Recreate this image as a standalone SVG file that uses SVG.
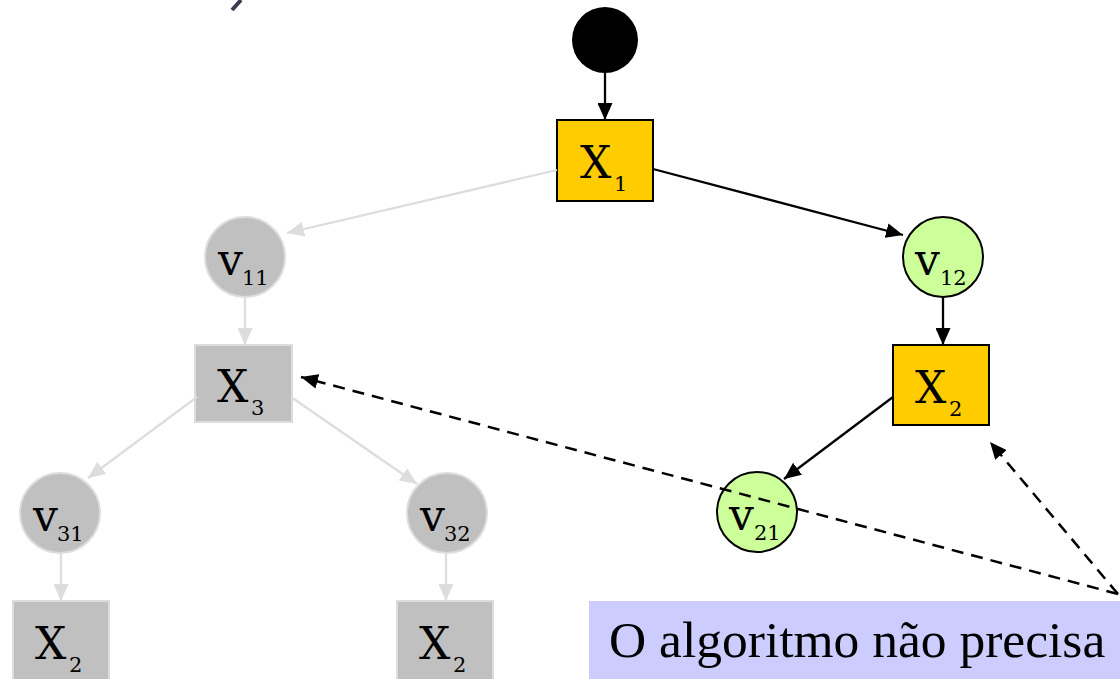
<svg xmlns="http://www.w3.org/2000/svg" width="1120" height="679" viewBox="0 0 1120 679">
<style>
.box-y{fill:#FFCC00;stroke:#000;stroke-width:2}
.box-g{fill:#C0C0C0;stroke:#DDDDDD;stroke-width:2}
.circ-g{fill:#C0C0C0;stroke:#DDDDDD;stroke-width:2}
.circ-l{fill:#CCFF99;stroke:#000;stroke-width:2}
.lbl{font-family:"DejaVu Serif","Liberation Serif",serif;fill:#000}
.big{font-size:44px}
.sub{font-size:21px}
.e-b{stroke:#000;stroke-width:2.3;fill:none}
.e-g{stroke:#DDDDDD;stroke-width:2.3;fill:none}
.e-d{stroke:#000;stroke-width:2.5;fill:none;stroke-dasharray:12 8}
.note{font-family:"Liberation Serif",serif;font-size:51.5px;fill:#000}
</style>
<defs>
<marker id="ab" markerUnits="userSpaceOnUse" markerWidth="17" markerHeight="15" refX="17" refY="7.5" orient="auto"><path d="M0,0 L17,7.5 L0,15 Z" fill="#000"/></marker>
<marker id="ag" markerUnits="userSpaceOnUse" markerWidth="17" markerHeight="15" refX="17" refY="7.5" orient="auto"><path d="M0,0 L17,7.5 L0,15 Z" fill="#DDDDDD"/></marker>
</defs>
<rect width="1120" height="679" fill="#fff"/>
<path d="M241,0 L232,10" stroke="#3B3B52" stroke-width="4"/>

<g id="start"><circle cx="605" cy="40" r="33" fill="#000"/></g>
<g id="X1"><rect class="box-y" x="557" y="120" width="96" height="81"/><text class="lbl big" x="580" y="178">X</text><text class="lbl sub" x="614" y="191">1</text></g>
<g id="v11"><circle class="circ-g" cx="245" cy="257" r="40"/><text class="lbl big" x="218" y="275">v</text><text class="lbl sub" x="242" y="285">11</text></g>
<g id="v12"><circle class="circ-l" cx="943" cy="257" r="40"/><text class="lbl big" x="915" y="275">v</text><text class="lbl sub" x="940" y="285">12</text></g>
<g id="X3"><rect class="box-g" x="195" y="345" width="97" height="77"/><text class="lbl big" x="217" y="402">X</text><text class="lbl sub" x="251" y="415">3</text></g>
<g id="X2a"><rect class="box-y" x="893" y="345" width="96" height="80"/><text class="lbl big" x="915" y="403">X</text><text class="lbl sub" x="949" y="416">2</text></g>
<g id="v21"><circle class="circ-l" cx="757" cy="512" r="40"/><text class="lbl big" x="729" y="530">v</text><text class="lbl sub" x="754" y="540">21</text></g>
<g id="v31"><circle class="circ-g" cx="60" cy="513" r="40"/><text class="lbl big" x="33" y="531">v</text><text class="lbl sub" x="57" y="541">31</text></g>
<g id="v32"><circle class="circ-g" cx="447" cy="513" r="40"/><text class="lbl big" x="420" y="531">v</text><text class="lbl sub" x="444" y="541">32</text></g>
<g id="X2b"><rect class="box-g" x="13" y="601" width="96" height="80"/><text class="lbl big" x="35" y="659">X</text><text class="lbl sub" x="69" y="672">2</text></g>
<g id="X2c"><rect class="box-g" x="397" y="601" width="96" height="80"/><text class="lbl big" x="419" y="659">X</text><text class="lbl sub" x="453" y="672">2</text></g>
<g id="note"><rect x="589" y="601" width="540" height="90" fill="#CCCCFF"/><text class="note" x="609" y="657">O algoritmo não precisa</text></g>

<g id="connectors">
<line class="e-b" x1="605" y1="73" x2="605" y2="120" marker-end="url(#ab)"/>
<line class="e-b" x1="653" y1="169" x2="903" y2="235" marker-end="url(#ab)"/>
<line class="e-b" x1="943" y1="297" x2="943" y2="345" marker-end="url(#ab)"/>
<line class="e-b" x1="893" y1="397" x2="784" y2="479" marker-end="url(#ab)"/>
<line class="e-g" x1="557" y1="170" x2="287" y2="233" marker-end="url(#ag)"/>
<line class="e-g" x1="245" y1="297" x2="245" y2="345" marker-end="url(#ag)"/>
<line class="e-g" x1="197" y1="397" x2="88" y2="478" marker-end="url(#ag)"/>
<line class="e-g" x1="291" y1="397" x2="417" y2="484" marker-end="url(#ag)"/>
<line class="e-g" x1="61" y1="553" x2="61" y2="601" marker-end="url(#ag)"/>
<line class="e-g" x1="446" y1="553" x2="446" y2="601" marker-end="url(#ag)"/>
<line class="e-d" x1="1118" y1="594" x2="301" y2="377" marker-end="url(#ab)"/>
<line class="e-d" x1="1118" y1="594" x2="990" y2="442" marker-end="url(#ab)"/>
</g>
</svg>
